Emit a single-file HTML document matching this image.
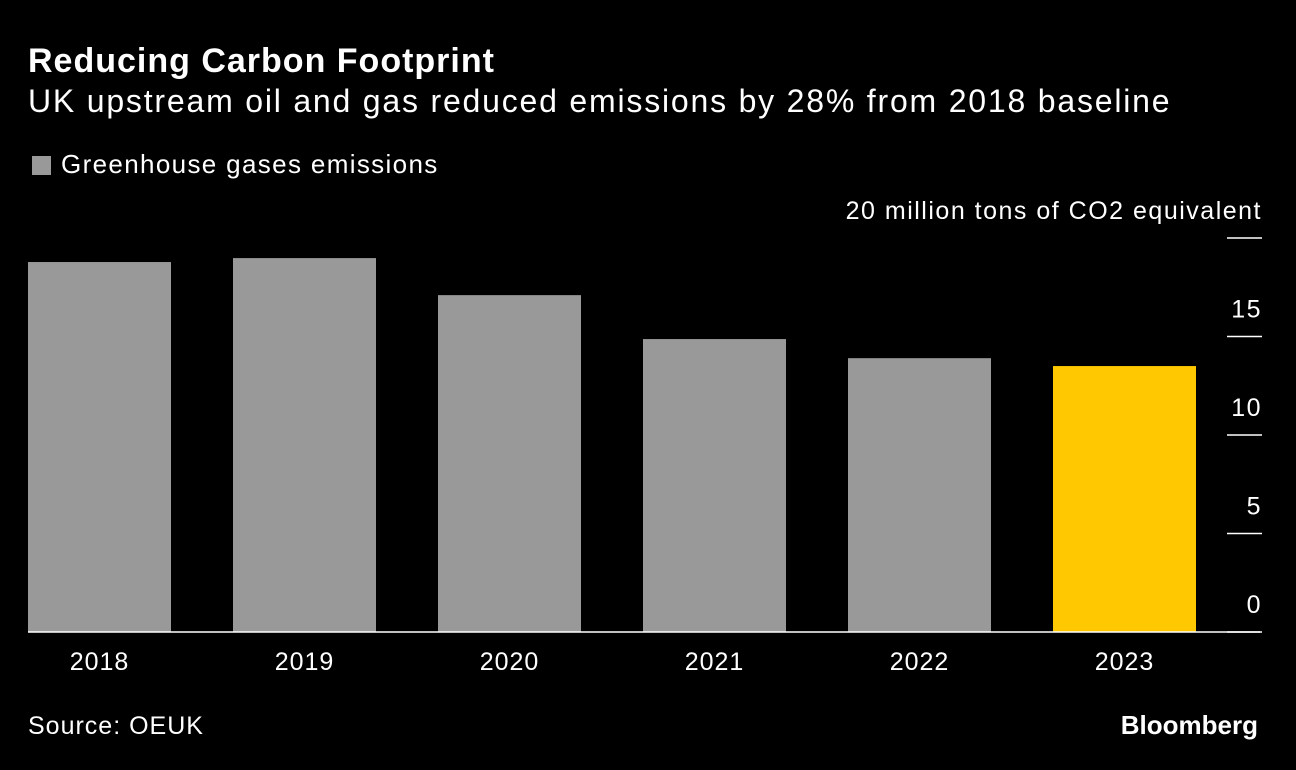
<!DOCTYPE html>
<html><head><meta charset="utf-8"><style>
body{margin:0;background:#000;width:1296px;height:770px;overflow:hidden;font-family:"Liberation Sans",Arial,sans-serif;color:#fff;position:relative}
.t{position:absolute;white-space:nowrap}
</style></head><body>
<div class="t" style="left:28px;top:42px;font-size:34px;font-weight:bold;letter-spacing:1.0px">Reducing Carbon Footprint</div>
<div class="t" style="left:28px;top:83px;font-size:32px;letter-spacing:1.8px">UK upstream oil and gas reduced emissions by 28% from 2018 baseline</div>
<div class="t" style="left:32px;top:149px;font-size:26px;letter-spacing:1.35px"><span style="display:inline-block;width:19px;height:19px;background:#999;margin-right:10px;vertical-align:-2px"></span>Greenhouse gases emissions</div>
<svg id="c" width="1296" height="770" style="position:absolute;left:0;top:0"></svg>
<div class="t" style="left:28px;top:712px;font-size:25px;letter-spacing:1px">Source: OEUK</div>
<div class="t" style="right:38px;top:710px;font-size:26px;font-weight:bold;letter-spacing:0px">Bloomberg</div>
<script>
const categories=["2018","2019","2020","2021","2022","2023"];
const values=[18.78,18.98,17.1,14.87,13.9,13.5];
const ticks=[0,5,10,15,20];
const tickLabels=["0","5","10","15","20 million tons of CO2 equivalent"];
const ns="http://www.w3.org/2000/svg",svg=document.getElementById('c');
const y=v=>632-v*19.7, x=i=>28+i*205;
function mk(t,a){const e=document.createElementNS(ns,t);for(const k in a)e.setAttribute(k,a[k]);svg.appendChild(e);return e;}
categories.forEach((c,i)=>{
 const r=mk('rect',{x:x(i),y:y(values[i]),width:143,height:y(0)-y(values[i]),fill:i==5?'#ffc800':'#999'});
 
 
 const t=mk('text',{x:x(i)+71.5,y:670,'text-anchor':'middle','font-size':25,'letter-spacing':1,fill:'#fff'});
 t.textContent=c;
 
 
});
ticks.forEach((v,i)=>{
 const l=mk('line',{x1:1227,x2:1262,y1:y(v),y2:y(v),stroke:'#fff','stroke-width':1.5});
 
 
 const t=mk('text',{x:1262,y:y(v)-19,'text-anchor':'end','font-size':25,'letter-spacing':1.5,fill:'#fff'});
 t.textContent=tickLabels[i];
 
 
});
const b=mk('line',{x1:28,x2:1260,y1:y(0),y2:y(0),stroke:'#fff','stroke-width':1.5});


</script>
</body></html>
